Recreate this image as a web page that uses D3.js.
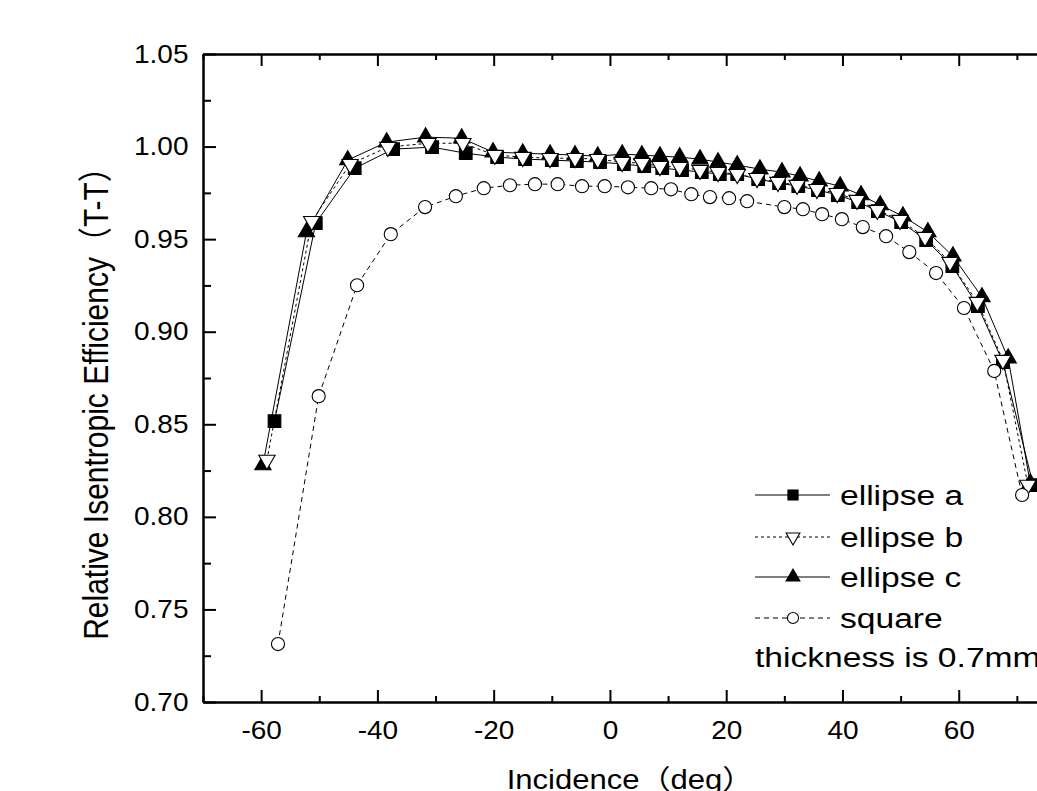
<!DOCTYPE html>
<html>
<head>
<meta charset="utf-8">
<script src="https://cdn.jsdelivr.net/npm/d3@7"></script>
<style>
  body { margin: 0; background: #fff; }
  text { font-family: "Liberation Sans", Arial, "Noto Sans CJK SC", sans-serif; fill: #000; }
</style>
</head>
<body>
<svg id="chart" width="1037" height="791"></svg>
<script>
// incidence (deg) and relative efficiency for each profile
const incA = [-57.7, -50.6, -43.9, -37.3, -30.6, -24.8, -19.4, -14.6, -10.0, -5.7, -1.7, 2.4, 5.9, 9.0, 12.4, 15.8, 18.9, 21.9, 25.5, 29.1, 32.4, 35.8, 39.2, 42.7, 46.1, 50.1, 54.4, 58.9, 63.3, 67.6, 72.8];
const effA = [0.8517, 0.9587, 0.9883, 0.9986, 0.9997, 0.9964, 0.9943, 0.9932, 0.9927, 0.9921, 0.9916, 0.9905, 0.9894, 0.9883, 0.9873, 0.9862, 0.9851, 0.9851, 0.9824, 0.9802, 0.9786, 0.9765, 0.9738, 0.9700, 0.9651, 0.9592, 0.9495, 0.9354, 0.9138, 0.8836, 0.8172];

const incB = [-59.0, -51.3, -44.7, -38.2, -31.3, -25.3, -19.8, -15.0, -10.3, -6.0, -2.1, 2.1, 5.5, 8.6, 12.0, 15.5, 18.6, 21.9, 25.3, 28.9, 32.2, 35.6, 39.1, 42.5, 46.0, 49.9, 54.2, 58.5, 63.2, 67.6, 71.9];
const effB = [0.8307, 0.9597, 0.9905, 0.9997, 1.0018, 1.0018, 0.9954, 0.9943, 0.9937, 0.9937, 0.9932, 0.9916, 0.9910, 0.9894, 0.9889, 0.9873, 0.9862, 0.9851, 0.9829, 0.9808, 0.9792, 0.9770, 0.9748, 0.9711, 0.9657, 0.9603, 0.9511, 0.9376, 0.9160, 0.8847, 0.8172];

const incC = [-59.7, -52.2, -45.1, -38.4, -31.7, -25.5, -20.1, -15.0, -10.3, -6.0, -2.1, 2.1, 5.5, 8.6, 12.0, 15.5, 18.6, 21.9, 25.8, 29.6, 32.7, 36.0, 39.6, 43.2, 46.5, 50.4, 54.7, 59.0, 64.0, 68.5, 72.3];
const effC = [0.8280, 0.9538, 0.9927, 1.0024, 1.0051, 1.0045, 0.9970, 0.9964, 0.9959, 0.9954, 0.9948, 0.9959, 0.9954, 0.9948, 0.9943, 0.9932, 0.9916, 0.9900, 0.9878, 0.9862, 0.9840, 0.9813, 0.9786, 0.9738, 0.9684, 0.9624, 0.9538, 0.9408, 0.9187, 0.8857, 0.8182];

const incS = [-57.1, -50.1, -43.5, -37.7, -31.8, -26.5, -21.7, -17.2, -12.9, -9.0, -4.8, -0.9, 3.1, 7.1, 10.5, 14.0, 17.2, 20.5, 23.6, 30.0, 33.2, 36.5, 39.9, 43.5, 47.5, 51.5, 56.1, 60.9, 66.1, 70.9];
const effS = [0.7313, 0.8652, 0.9251, 0.9527, 0.9673, 0.9732, 0.9775, 0.9791, 0.9797, 0.9797, 0.9786, 0.9786, 0.9780, 0.9775, 0.9769, 0.9743, 0.9727, 0.9721, 0.9705, 0.9673, 0.9662, 0.9635, 0.9608, 0.9565, 0.9516, 0.9430, 0.9317, 0.9128, 0.8788, 0.8118];

const xMajor = [-60, -40, -20, 0, 20, 40, 60];
const xMinor = [-70, -50, -30, -10, 10, 30, 50, 70];
const yMajor = [0.70, 0.75, 0.80, 0.85, 0.90, 0.95, 1.00, 1.05];
const yMinor = [0.725, 0.775, 0.825, 0.875, 0.925, 0.975, 1.025];

const legendNames = ["ellipse a", "ellipse b", "ellipse c", "square"];
const noteText = "thickness is 0.7mm";

const svg = d3.select("#chart");

const x = d3.scaleLinear().domain([-70, 80]).range([203, 1075]);
const y = d3.scaleLinear().domain([0.70, 1.05]).range([702, 54]);

const series = [
  { name: legendNames[0], xs: incA, ys: effA, shape: "square", dash: null },
  { name: legendNames[1], xs: incB, ys: effB, shape: "down", dash: "3,3" },
  { name: legendNames[2], xs: incC, ys: effC, shape: "up", dash: null },
  { name: legendNames[3], xs: incS, ys: effS, shape: "circle", dash: "5,4" }
];

function symbolPath(shape, k) {
  if (shape === "square") return d3.symbol(d3.symbolSquare, 160 * k * k)();
  if (shape === "circle") return d3.symbol(d3.symbolCircle, 135 * k * k)();
  return d3.symbol(d3.symbolTriangle, 115 * k * k)();
}
function markerStyle(sel, shape, k) {
  sel.attr("d", symbolPath(shape, k))
    .attr("fill", (shape === "square" || shape === "up") ? "#000" : "#fff")
    .attr("stroke", "#000")
    .attr("stroke-width", 1.1);
}
function place(shape, px, py) {
  return "translate(" + px + "," + py + ")" + (shape === "down" ? " rotate(180)" : "");
}

// axes
function styleAxis(g) {
  g.select(".domain").attr("stroke-width", 2);
  g.selectAll(".tick line").attr("stroke-width", 2);
}
const hyphen = d => String(d).replace("\u2212", "-");

const gx = svg.append("g").attr("transform", "translate(0,702)")
  .call(d3.axisBottom(x).tickValues(xMajor).tickSize(-12).tickSizeOuter(0).tickPadding(19).tickFormat(hyphen));
gx.selectAll("text").attr("font-size", 25).attr("transform", "scale(1.12,1)");
styleAxis(gx);
svg.append("g").attr("transform", "translate(0,702)")
  .call(d3.axisBottom(x).tickValues(xMinor).tickSize(-6).tickSizeOuter(0).tickFormat(""))
  .call(styleAxis);

const gt = svg.append("g").attr("transform", "translate(0,54)")
  .call(d3.axisTop(x).tickValues(xMajor).tickSize(-12).tickSizeOuter(0).tickFormat(""));
styleAxis(gt);
svg.append("g").attr("transform", "translate(0,54)")
  .call(d3.axisTop(x).tickValues(xMinor).tickSize(-6).tickSizeOuter(0).tickFormat(""))
  .call(styleAxis);

const gy = svg.append("g").attr("transform", "translate(203,0)")
  .call(d3.axisLeft(y).tickValues(yMajor).tickSize(-13).tickSizeOuter(0).tickFormat(d3.format(".2f")));
gy.selectAll("text").attr("font-size", 25).attr("x", -13).attr("transform", "scale(1.12,1)");
styleAxis(gy);
svg.append("g").attr("transform", "translate(203,0)")
  .call(d3.axisLeft(y).tickValues(yMinor).tickSize(-8).tickSizeOuter(0).tickFormat(""))
  .call(styleAxis);

const gr = svg.append("g").attr("transform", "translate(1075,0)")
  .call(d3.axisRight(y).tickValues(yMajor).tickSize(-13).tickSizeOuter(0).tickFormat(""));
styleAxis(gr);

// axis titles
svg.append("text")
  .attr("transform", "translate(630,789) scale(1.15,1)")
  .attr("text-anchor", "middle")
  .attr("font-size", 27)
  .text("Incidence（deg）");

svg.append("text")
  .attr("transform", "translate(108,396) scale(1.15,1) rotate(-90)")
  .attr("text-anchor", "middle")
  .attr("font-size", 30)
  .text("Relative Isentropic Efficiency（T-T）");

// lines and markers, drawn a, c, b, square so the open triangles sit on top
const line = d3.line().x(d => x(d[0])).y(d => y(d[1]));
const drawOrder = [0, 2, 1, 3];

drawOrder.forEach(i => {
  const s = series[i];
  const pts = d3.zip(s.xs, s.ys);
  svg.append("path")
    .attr("d", line(pts))
    .attr("fill", "none")
    .attr("stroke", "#000")
    .attr("stroke-width", 1)
    .attr("stroke-dasharray", s.dash);
  svg.append("g").selectAll("path")
    .data(pts)
    .enter()
    .append("path")
    .attr("transform", d => place(s.shape, x(d[0]), y(d[1])))
    .call(markerStyle, s.shape, 1);
});

// legend
const legendY = [495, 537, 577, 618];
series.forEach((s, i) => {
  const g = svg.append("g").attr("transform", "translate(0," + legendY[i] + ")");
  g.append("line")
    .attr("x1", 755).attr("x2", 830).attr("y1", 0).attr("y2", 0)
    .attr("stroke", "#000").attr("stroke-width", 1)
    .attr("stroke-dasharray", s.dash);
  g.append("path")
    .attr("transform", place(s.shape, 793, 0))
    .call(markerStyle, s.shape, s.shape === "square" ? 0.8 : 0.85);
  g.append("text")
    .attr("transform", "translate(840,10) scale(1.2,1)")
    .attr("font-size", 28)
    .text(s.name);
});
svg.append("text")
  .attr("transform", "translate(755,667) scale(1.2,1)")
  .attr("font-size", 28)
  .text(noteText);
</script>
</body>
</html>
